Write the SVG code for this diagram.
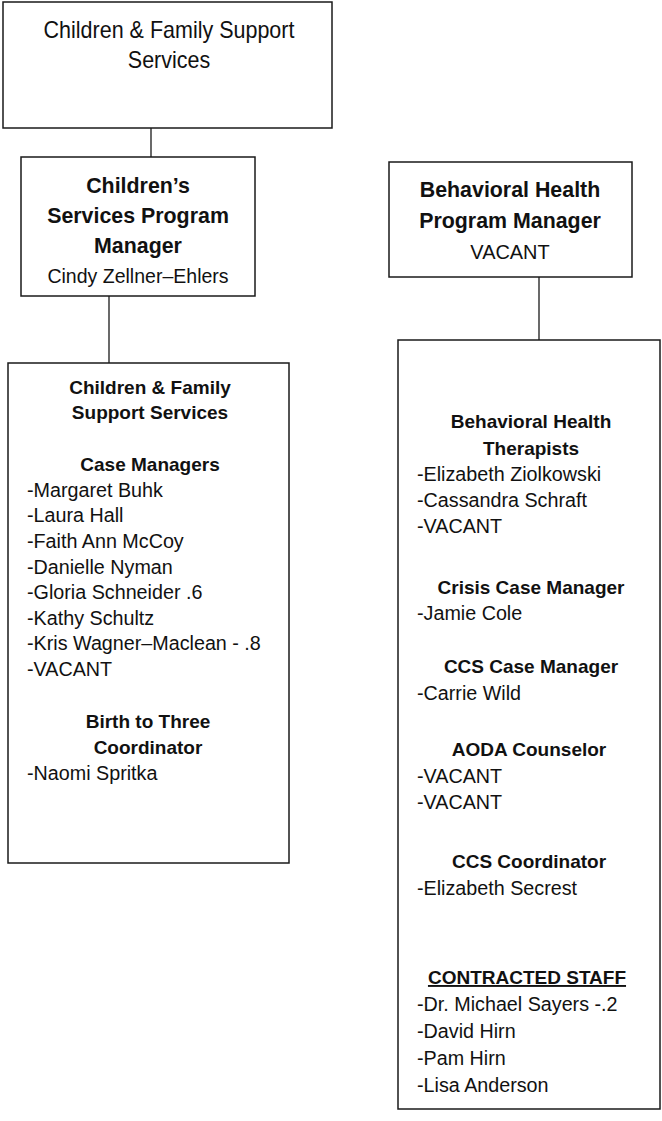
<svg xmlns="http://www.w3.org/2000/svg" width="662" height="1121" viewBox="0 0 662 1121">
<style>
.box{fill:#fff;stroke:#1a1a1a;stroke-width:1.5}
.conn{stroke:#1a1a1a;stroke-width:1.3;fill:none}
text{font-family:"Liberation Sans",Arial,sans-serif;fill:#111}
.top{font-size:23px;text-anchor:middle}
.mgr{font-size:23px;font-weight:bold;text-anchor:middle}
.mgrn{font-size:21px;text-anchor:middle}
.hd{font-size:19px;font-weight:bold;text-anchor:middle}
.it{font-size:21px}
</style>
<rect width="662" height="1121" fill="#fff"/>
<g id="connectors">
<line class="conn" x1="151" y1="128" x2="151" y2="157"/>
<line class="conn" x1="109" y1="296" x2="109" y2="363"/>
<line class="conn" x1="539" y1="277" x2="539" y2="340"/>
</g>
<g id="node-cfss-top">
<rect class="box" x="3" y="2" width="329" height="126"/>
<text class="top" transform="translate(169 38) scale(0.935 1)">Children &amp; Family Support</text>
<text class="top" transform="translate(169 68) scale(0.935 1)">Services</text>
</g>
<g id="node-children-pm">
<rect class="box" x="21" y="157" width="234" height="139"/>
<text class="mgr" transform="translate(138 193) scale(0.93 1)">Children’s</text>
<text class="mgr" transform="translate(138 223) scale(0.93 1)">Services Program</text>
<text class="mgr" transform="translate(138 253) scale(0.93 1)">Manager</text>
<text class="mgrn" transform="translate(138 283) scale(0.93 1)">Cindy Zellner–Ehlers</text>
</g>
<g id="node-bh-pm">
<rect class="box" x="389" y="162" width="243" height="115"/>
<text class="mgr" transform="translate(510 197) scale(0.93 1)">Behavioral Health</text>
<text class="mgr" transform="translate(510 228) scale(0.93 1)">Program Manager</text>
<text class="mgrn" transform="translate(510 259) scale(0.95 1)">VACANT</text>
</g>
<g id="node-cfss-staff">
<rect class="box" x="8" y="363" width="281" height="500"/>
<text class="hd" x="150" y="394">Children &amp; Family</text>
<text class="hd" x="150" y="419">Support Services</text>
<text class="hd" x="150" y="471">Case Managers</text>
<text class="it" transform="translate(27 497) scale(0.94 1)">-Margaret Buhk</text>
<text class="it" transform="translate(27 522) scale(0.94 1)">-Laura Hall</text>
<text class="it" transform="translate(27 548) scale(0.94 1)">-Faith Ann McCoy</text>
<text class="it" transform="translate(27 574) scale(0.94 1)">-Danielle Nyman</text>
<text class="it" transform="translate(27 599) scale(0.94 1)">-Gloria Schneider .6</text>
<text class="it" transform="translate(27 625) scale(0.94 1)">-Kathy Schultz</text>
<text class="it" transform="translate(27 650) scale(0.94 1)">-Kris Wagner–Maclean - .8</text>
<text class="it" transform="translate(27 676) scale(0.94 1)">-VACANT</text>
<text class="hd" x="148" y="728">Birth to Three</text>
<text class="hd" x="148" y="754">Coordinator</text>
<text class="it" transform="translate(27 780) scale(0.94 1)">-Naomi Spritka</text>
</g>
<g id="node-bh-staff">
<rect class="box" x="398" y="340" width="262" height="769"/>
<text class="hd" x="531" y="428">Behavioral Health</text>
<text class="hd" x="531" y="455">Therapists</text>
<text class="it" transform="translate(417 481) scale(0.94 1)">-Elizabeth Ziolkowski</text>
<text class="it" transform="translate(417 507) scale(0.94 1)">-Cassandra Schraft</text>
<text class="it" transform="translate(417 533) scale(0.94 1)">-VACANT</text>
<text class="hd" x="531" y="594">Crisis Case Manager</text>
<text class="it" transform="translate(417 620) scale(0.94 1)">-Jamie Cole</text>
<text class="hd" x="531" y="673">CCS Case Manager</text>
<text class="it" transform="translate(417 700) scale(0.94 1)">-Carrie Wild</text>
<text class="hd" x="529" y="756">AODA Counselor</text>
<text class="it" transform="translate(417 783) scale(0.94 1)">-VACANT</text>
<text class="it" transform="translate(417 809) scale(0.94 1)">-VACANT</text>
<text class="hd" x="529" y="868">CCS Coordinator</text>
<text class="it" transform="translate(417 895) scale(0.94 1)">-Elizabeth Secrest</text>
<text class="hd" x="527" y="984" text-decoration="underline">CONTRACTED STAFF</text>
<text class="it" transform="translate(417 1011) scale(0.94 1)">-Dr. Michael Sayers -.2</text>
<text class="it" transform="translate(417 1038) scale(0.94 1)">-David Hirn</text>
<text class="it" transform="translate(417 1065) scale(0.94 1)">-Pam Hirn</text>
<text class="it" transform="translate(417 1092) scale(0.94 1)">-Lisa Anderson</text>
</g>
</svg>
